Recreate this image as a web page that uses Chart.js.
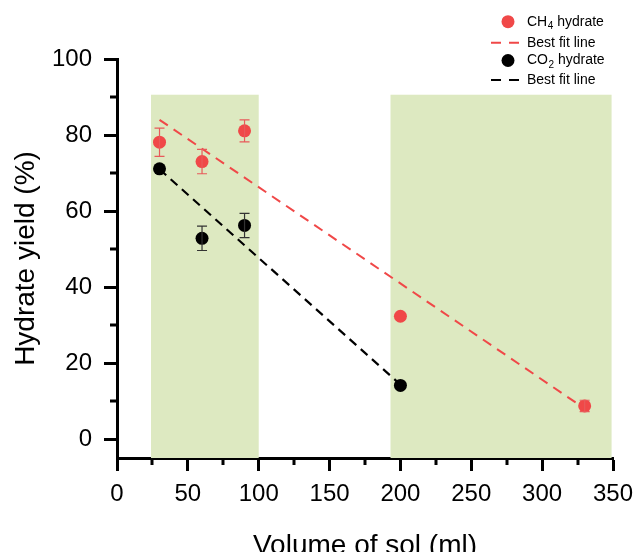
<!DOCTYPE html>
<html>
<head>
<meta charset="utf-8">
<script src="https://cdn.jsdelivr.net/npm/chart.js@4.4.1/dist/chart.umd.min.js"></script>
<style>
html,body{margin:0;padding:0;background:#fff;}
#wrap{width:636px;height:552px;position:relative;}
</style>
</head>
<body>
<div id="wrap"><canvas id="c" width="636" height="552"></canvas></div>
<script>
// ---- data ----
const ch4X = [30, 60, 90, 200, 330];
const ch4Y = [78.1, 73.0, 81.1, 32.3, 8.7];
const ch4Err = [3.7, 3.2, 2.9, 0, 1.5];

const co2X = [30, 60, 90, 200];
const co2Y = [71.1, 52.8, 56.2, 14.1];
const co2Err = [0, 3.2, 3.2, 0];

const fitCh4X = [30, 330];
const fitCh4Y = [84, 8];
const fitCo2X = [30, 200];
const fitCo2Y = [71, 14.3];

const bandStart = [24, 193];
const bandEnd = [100, 349];
const bandTop = 90.6;

const xMajorTicks = [0, 50, 100, 150, 200, 250, 300, 350];
const xMinorTicks = [25, 75, 125, 175, 225, 275, 325];
const yMajorTicks = [0, 20, 40, 60, 80, 100];
const yMinorTicks = [10, 30, 50, 70, 90];

const legendLabels = [
  {main: 'CH', sub: '4', rest: ' hydrate'},
  {main: 'Best fit line', sub: '', rest: ''},
  {main: 'CO', sub: '2', rest: ' hydrate'},
  {main: 'Best fit line', sub: '', rest: ''}
];

const xTitle = 'Volume of sol (ml)';
const yTitle = 'Hydrate yield (%)';

const RED = '#f04848';
const BLACK = '#000000';
const FONT = "'Liberation Sans', Arial, sans-serif";

const toPts = (xs, ys) => xs.map((x, i) => ({x: x, y: ys[i]}));

const bandsPlugin = {
  id: 'bands',
  beforeDatasetsDraw(chart) {
    const {ctx, scales: {x, y}} = chart;
    ctx.save();
    ctx.fillStyle = '#dde9c1';
    for (let i = 0; i < bandStart.length; i++) {
      const x0 = x.getPixelForValue(bandStart[i]);
      const x1 = x.getPixelForValue(bandEnd[i]);
      const y0 = y.getPixelForValue(bandTop);
      const y1 = chart.chartArea.bottom;
      ctx.fillRect(x0, y0, x1 - x0, y1 - y0);
    }
    ctx.restore();
  }
};

const errPlugin = {
  id: 'errbars',
  afterDatasetsDraw(chart) {
    const {ctx, scales: {x, y}} = chart;
    const sets = [[ch4X, ch4Y, ch4Err, '#e85a5a'], [co2X, co2Y, co2Err, '#333333']];
    ctx.save();
    ctx.lineWidth = 1.2;
    sets.forEach(([xs, ys, es, col]) => {
      ctx.strokeStyle = col;
      xs.forEach((xv, i) => {
        if (!es[i]) return;
        const px = x.getPixelForValue(xv);
        const pt = y.getPixelForValue(ys[i] + es[i]);
        const pb = y.getPixelForValue(ys[i] - es[i]);
        ctx.beginPath();
        ctx.moveTo(px, pt); ctx.lineTo(px, pb);
        ctx.moveTo(px - 5, pt); ctx.lineTo(px + 5, pt);
        ctx.moveTo(px - 5, pb); ctx.lineTo(px + 5, pb);
        ctx.stroke();
      });
    });
    ctx.restore();
  }
};

const minorTickPlugin = {
  id: 'minorTicks',
  afterDraw(chart) {
    const {ctx, scales: {x, y}, chartArea} = chart;
    ctx.save();
    ctx.strokeStyle = '#000';
    ctx.lineWidth = 3;
    ctx.beginPath();
    xMinorTicks.forEach(v => {
      const px = Math.round(x.getPixelForValue(v));
      ctx.moveTo(px, chartArea.bottom);
      ctx.lineTo(px, chartArea.bottom + 7);
    });
    yMinorTicks.forEach(v => {
      const py = Math.round(y.getPixelForValue(v));
      ctx.moveTo(chartArea.left, py);
      ctx.lineTo(chartArea.left - 7, py);
    });
    ctx.stroke();
    ctx.restore();
  }
};

const legendPlugin = {
  id: 'customLegend',
  afterDraw(chart) {
    const ctx = chart.ctx;
    const rows = [21.7, 42.7, 60.5, 80];
    const types = ['point', 'line', 'point', 'line'];
    const cols = [RED, RED, BLACK, BLACK];
    ctx.save();
    rows.forEach((ry, i) => {
      if (types[i] === 'point') {
        ctx.fillStyle = cols[i];
        ctx.beginPath();
        ctx.arc(508, ry, 6.5, 0, Math.PI * 2);
        ctx.fill();
      } else {
        ctx.strokeStyle = cols[i];
        ctx.lineWidth = 2;
        ctx.beginPath();
        ctx.moveTo(491, ry); ctx.lineTo(501, ry);
        ctx.moveTo(509, ry); ctx.lineTo(519, ry);
        ctx.stroke();
      }
      const lab = legendLabels[i];
      ctx.fillStyle = '#000';
      ctx.textBaseline = 'middle';
      ctx.textAlign = 'left';
      ctx.font = '14px ' + FONT;
      let tx = 527;
      ctx.fillText(lab.main, tx, ry);
      tx += ctx.measureText(lab.main).width;
      if (lab.sub) {
        ctx.font = '10px ' + FONT;
        ctx.fillText(lab.sub, tx + 0.5, ry + 4.5);
        tx += ctx.measureText(lab.sub).width + 0.5;
        ctx.font = '14px ' + FONT;
      }
      if (lab.rest) ctx.fillText(lab.rest, tx, ry);
    });
    ctx.restore();
  }
};

new Chart(document.getElementById('c'), {
  type: 'scatter',
  data: {
    datasets: [
      {
        type: 'line',
        data: toPts(fitCh4X, fitCh4Y),
        borderColor: RED,
        borderWidth: 2,
        borderDash: [10, 7],
        pointRadius: 0,
        fill: false,
        order: 3
      },
      {
        type: 'line',
        data: toPts(fitCo2X, fitCo2Y),
        borderColor: BLACK,
        borderWidth: 2.2,
        borderDash: [9, 6],
        pointRadius: 0,
        fill: false,
        order: 3
      },
      {
        data: toPts(ch4X, ch4Y),
        backgroundColor: RED,
        borderColor: RED,
        borderWidth: 0,
        pointRadius: 6.5,
        order: 1
      },
      {
        data: toPts(co2X, co2Y),
        backgroundColor: BLACK,
        borderColor: BLACK,
        borderWidth: 0,
        pointRadius: 6.5,
        order: 1
      }
    ]
  },
  options: {
    responsive: false,
    animation: false,
    devicePixelRatio: 1,
    layout: {padding: {top: 59, right: 23, left: 0, bottom: 0}},
    plugins: {legend: {display: false}, tooltip: {enabled: false}},
    scales: {
      x: {
        type: 'linear',
        min: 0, max: 350,
        afterBuildTicks: s => { s.ticks = xMajorTicks.map(v => ({value: v})); },
        afterFit: s => { s.height = 94; s.paddingLeft = 0; s.paddingRight = 0; },
        border: {color: '#000', width: 3},
        grid: {drawOnChartArea: false, drawTicks: true, tickLength: 13, tickColor: '#000', tickWidth: 3},
        ticks: {color: '#000', font: {family: FONT, size: 24}, padding: 9, maxRotation: 0, autoSkip: false},
        title: {display: true, text: xTitle, color: '#000', font: {family: FONT, size: 28, lineHeight: 0.42}, padding: 0}
      },
      y: {
        type: 'linear',
        min: -5, max: 100,
        afterBuildTicks: s => { s.ticks = yMajorTicks.map(v => ({value: v})); },
        afterFit: s => { s.width = 117; s.paddingTop = 0; s.paddingBottom = 0; },
        border: {color: '#000', width: 3},
        grid: {drawOnChartArea: false, drawTicks: true, tickLength: 13, tickColor: '#000', tickWidth: 3},
        ticks: {color: '#000', font: {family: FONT, size: 24}, padding: 12, autoSkip: false},
        title: {display: true, text: yTitle, color: '#000', font: {family: FONT, size: 28}, padding: {top: 9, bottom: 0}}
      }
    }
  },
  plugins: [bandsPlugin, errPlugin, minorTickPlugin, legendPlugin]
});
</script>
</body>
</html>
